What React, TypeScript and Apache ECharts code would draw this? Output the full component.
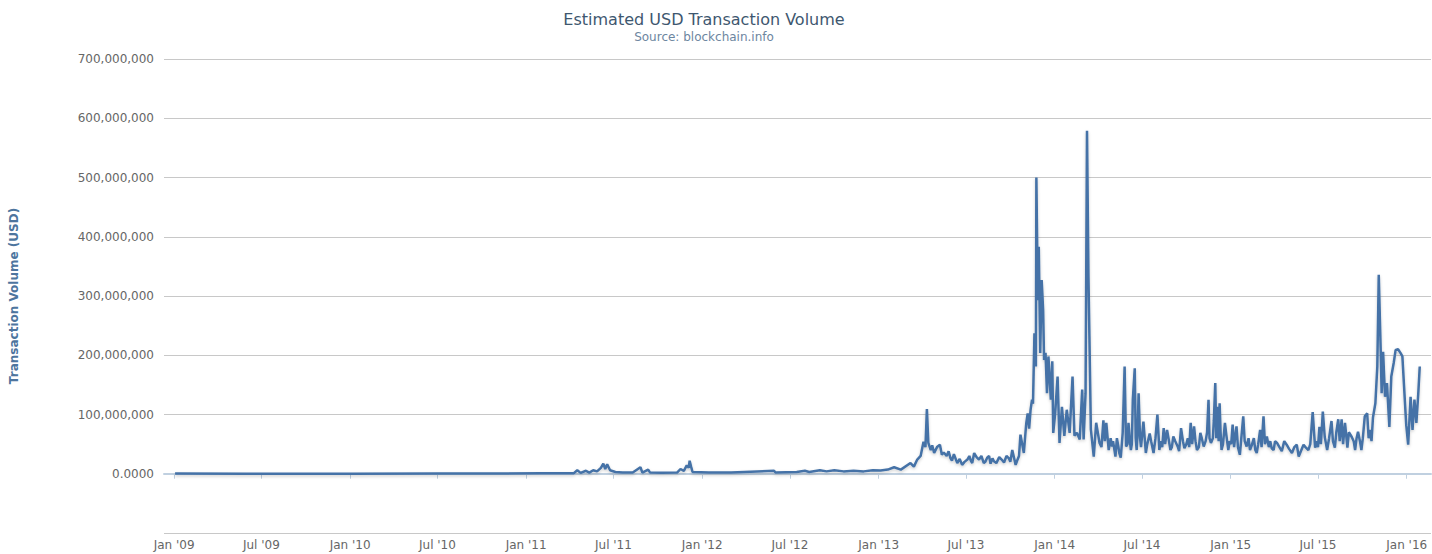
import React, { useEffect, useRef } from "react";
import * as echarts from "echarts";

// Estimated USD transaction volume, values in millions of USD
const volume2009to2012: [string, number][] = [
  ["2009-01-03", 0.3], ["2009-06-01", 0.2], ["2010-01-01", 0.2], ["2010-07-01", 0.3],
  ["2010-11-01", 0.5], ["2011-02-01", 0.8], ["2011-04-10", 1.0], ["2011-04-17", 6],
  ["2011-04-24", 1.5], ["2011-05-05", 5], ["2011-05-12", 2], ["2011-05-20", 6],
  ["2011-05-28", 4], ["2011-06-05", 10], ["2011-06-10", 17], ["2011-06-14", 8],
  ["2011-06-18", 16], ["2011-06-24", 6], ["2011-07-05", 3], ["2011-07-20", 2],
  ["2011-08-10", 2], ["2011-08-26", 11], ["2011-08-30", 2], ["2011-09-11", 7],
  ["2011-09-15", 2], ["2011-10-10", 1.5], ["2011-11-10", 2], ["2011-11-17", 8],
  ["2011-11-24", 5], ["2011-11-30", 14], ["2011-12-04", 10], ["2011-12-06", 22],
  ["2011-12-09", 12], ["2011-12-12", 3], ["2012-01-15", 2], ["2012-03-01", 2],
  ["2012-05-29", 5], ["2012-06-01", 2], ["2012-07-15", 3], ["2012-08-01", 5],
  ["2012-08-10", 3], ["2012-09-01", 6], ["2012-09-15", 4], ["2012-10-01", 6],
  ["2012-10-20", 4], ["2012-11-10", 5], ["2012-12-01", 4], ["2012-12-20", 6],
];

const volume2013: [string, number][] = [
  ["2013-01-05", 5.6], ["2013-01-20", 7], ["2013-02-02", 11], ["2013-02-16", 7],
  ["2013-03-08", 18], ["2013-03-15", 12], ["2013-03-22", 24], ["2013-03-29", 30],
  ["2013-04-04", 54], ["2013-04-08", 45], ["2013-04-11", 109], ["2013-04-14", 52],
  ["2013-04-19", 40], ["2013-04-26", 35], ["2013-05-02", 45], ["2013-05-08", 49],
  ["2013-05-16", 36], ["2013-05-22", 30], ["2013-05-30", 26], ["2013-06-06", 33],
  ["2013-06-13", 18], ["2013-06-23", 15], ["2013-07-04", 24], ["2013-07-11", 22],
  ["2013-07-18", 35], ["2013-07-28", 24], ["2013-08-07", 18], ["2013-08-14", 27],
  ["2013-08-21", 17], ["2013-08-28", 21], ["2013-09-08", 28], ["2013-09-18", 19],
  ["2013-09-28", 26], ["2013-10-05", 40], ["2013-10-12", 15], ["2013-10-19", 30],
  ["2013-10-22", 66], ["2013-10-29", 35], ["2013-11-03", 85], ["2013-11-06", 102],
  ["2013-11-09", 76], ["2013-11-12", 108], ["2013-11-15", 125], ["2013-11-17", 118],
  ["2013-11-20", 237], ["2013-11-23", 181], ["2013-11-24", 500], ["2013-11-27", 293],
  ["2013-11-29", 383], ["2013-12-02", 204], ["2013-12-05", 327], ["2013-12-08", 277],
  ["2013-12-10", 192], ["2013-12-13", 204], ["2013-12-16", 136], ["2013-12-19", 198],
  ["2013-12-24", 125], ["2013-12-27", 190], ["2013-12-29", 69],
];

const volume2013Extra: [string, number][] = [
  ["2013-04-22", 48], ["2013-05-12", 32], ["2013-05-26", 38], ["2013-06-02", 22],
  ["2013-06-18", 25], ["2013-06-28", 20], ["2013-07-08", 30], ["2013-07-14", 18],
  ["2013-07-23", 28], ["2013-08-02", 30], ["2013-08-10", 20], ["2013-08-18", 30],
  ["2013-08-25", 26], ["2013-09-02", 18], ["2013-09-13", 24], ["2013-09-23", 30],
  ["2013-10-01", 20], ["2013-10-15", 22],
];

const volume2014: [string, number][] = [
  ["2014-01-02", 102], ["2014-01-07", 164], ["2014-01-11", 52], ["2014-01-16", 113],
  ["2014-01-21", 64], ["2014-01-26", 108], ["2014-02-01", 69], ["2014-02-07", 164],
  ["2014-02-11", 64], ["2014-02-16", 69], ["2014-02-22", 58], ["2014-02-27", 142],
  ["2014-03-02", 58], ["2014-03-06", 136], ["2014-03-09", 579], ["2014-03-12", 333],
  ["2014-03-14", 232], ["2014-03-17", 75], ["2014-03-23", 29], ["2014-03-28", 86],
  ["2014-04-04", 52], ["2014-04-12", 90], ["2014-04-18", 86], ["2014-04-23", 40],
  ["2014-04-30", 46], ["2014-05-07", 29], ["2014-05-13", 46], ["2014-05-18", 27],
  ["2014-05-22", 69], ["2014-05-26", 181], ["2014-05-29", 46], ["2014-06-03", 86],
  ["2014-06-08", 40], ["2014-06-12", 125], ["2014-06-16", 178], ["2014-06-20", 40],
  ["2014-06-24", 136], ["2014-06-29", 45], ["2014-07-04", 88], ["2014-07-09", 35],
  ["2014-07-12", 50], ["2014-07-17", 68], ["2014-07-25", 35], ["2014-08-02", 100],
  ["2014-08-06", 40], ["2014-08-15", 77], ["2014-08-22", 74], ["2014-08-29", 40],
  ["2014-09-04", 63], ["2014-09-13", 46], ["2014-09-20", 77], ["2014-09-27", 43],
  ["2014-10-10", 86], ["2014-10-17", 80], ["2014-10-23", 40], ["2014-10-30", 69],
  ["2014-11-06", 46], ["2014-11-16", 125], ["2014-11-21", 52], ["2014-11-30", 153],
  ["2014-12-04", 113], ["2014-12-09", 119], ["2014-12-13", 40], ["2014-12-20", 86],
  ["2014-12-27", 40],
];

const volume2014Extra: [string, number][] = [
  ["2014-04-08", 45], ["2014-04-15", 55], ["2014-04-27", 60], ["2014-05-02", 55],
  ["2014-05-10", 60], ["2014-05-15", 35], ["2014-06-01", 50], ["2014-06-06", 55],
  ["2014-06-10", 50], ["2014-06-18", 60], ["2014-06-22", 70], ["2014-06-27", 60],
  ["2014-07-20", 55], ["2014-07-29", 60], ["2014-08-09", 55], ["2014-08-12", 45],
  ["2014-08-18", 50], ["2014-08-25", 60], ["2014-09-01", 45], ["2014-09-08", 55],
  ["2014-09-16", 38], ["2014-09-24", 55], ["2014-10-01", 50], ["2014-10-04", 60],
  ["2014-10-07", 45], ["2014-10-13", 50], ["2014-10-20", 55], ["2014-10-27", 45],
  ["2014-11-02", 60], ["2014-11-10", 55], ["2014-11-13", 70], ["2014-11-18", 60],
  ["2014-11-25", 60], ["2014-11-27", 90], ["2014-12-02", 60], ["2014-12-07", 55],
  ["2014-12-11", 70], ["2014-12-16", 50], ["2014-12-23", 65], ["2014-12-30", 55],
];

const volume2015: [string, number][] = [
  ["2015-01-05", 83], ["2015-01-13", 80], ["2015-01-20", 32], ["2015-01-27", 97],
  ["2015-02-03", 46], ["2015-02-14", 49], ["2015-02-24", 35], ["2015-03-03", 74],
  ["2015-03-10", 97], ["2015-03-17", 63], ["2015-03-27", 43], ["2015-04-07", 52],
  ["2015-04-17", 38], ["2015-04-27", 49], ["2015-05-08", 35], ["2015-05-18", 49],
  ["2015-05-22", 29], ["2015-06-01", 49], ["2015-06-11", 40], ["2015-06-20", 104],
  ["2015-06-25", 44], ["2015-07-04", 79], ["2015-07-11", 105], ["2015-07-15", 62],
  ["2015-07-20", 40], ["2015-07-29", 89], ["2015-08-05", 44], ["2015-08-12", 92],
  ["2015-08-19", 92], ["2015-08-26", 86], ["2015-08-31", 44], ["2015-09-09", 62],
  ["2015-09-16", 40], ["2015-09-22", 71], ["2015-09-29", 40], ["2015-10-06", 97],
  ["2015-10-11", 102], ["2015-10-17", 74], ["2015-10-23", 95], ["2015-10-28", 119],
  ["2015-11-01", 181], ["2015-11-04", 336], ["2015-11-08", 209], ["2015-11-10", 136],
  ["2015-11-13", 206], ["2015-11-17", 130], ["2015-11-21", 153], ["2015-11-26", 79],
  ["2015-11-30", 164], ["2015-12-05", 187], ["2015-12-09", 209], ["2015-12-14", 210],
  ["2015-12-19", 204], ["2015-12-23", 198], ["2015-12-28", 125], ["2015-12-31", 82],
];

const volume2015Extra: [string, number][] = [
  ["2015-01-02", 50], ["2015-01-08", 45], ["2015-01-10", 60], ["2015-01-16", 45],
  ["2015-01-23", 60], ["2015-01-30", 55], ["2015-02-07", 60], ["2015-02-10", 40],
  ["2015-02-18", 60], ["2015-02-21", 40], ["2015-02-27", 50], ["2015-03-06", 45],
  ["2015-03-13", 50], ["2015-03-21", 45], ["2015-03-24", 55], ["2015-03-31", 40],
  ["2015-04-03", 55], ["2015-04-12", 45], ["2015-04-22", 55], ["2015-05-02", 42],
  ["2015-05-13", 45], ["2015-06-05", 45], ["2015-06-15", 50], ["2015-06-28", 55],
  ["2015-07-01", 45], ["2015-07-07", 50], ["2015-07-24", 60], ["2015-08-01", 55],
  ["2015-08-08", 70], ["2015-08-15", 55], ["2015-08-22", 50], ["2015-09-03", 70],
  ["2015-09-13", 55], ["2015-09-19", 60], ["2015-09-26", 55], ["2015-10-02", 60],
  ["2015-10-14", 60], ["2015-10-20", 55],
];

const volume2016: [string, number][] = [
  ["2016-01-04", 49], ["2016-01-09", 130], ["2016-01-13", 74], ["2016-01-17", 125],
  ["2016-01-21", 86], ["2016-01-25", 136], ["2016-01-28", 181],
];

// x-axis tick labels (every six months)
const tickDates: string[] = [
  "2009-01-01", "2009-07-01", "2010-01-01", "2010-07-01", "2011-01-01", "2011-07-01",
  "2012-01-01", "2012-07-01", "2013-01-01", "2013-07-01", "2014-01-01", "2014-07-01",
  "2015-01-01", "2015-07-01", "2016-01-01",
];

const MONTHS = ["Jan", "Feb", "Mar", "Apr", "May", "Jun", "Jul", "Aug", "Sep", "Oct", "Nov", "Dec"];

const toUTC = (s: string) => {
  const [y, m, d] = s.split("-").map(Number);
  return Date.UTC(y, m - 1, d);
};

const FONT = "DejaVu Sans";

export default function App() {
  const ref = useRef<HTMLDivElement>(null);

  useEffect(() => {
    if (!ref.current) return;
    const chart = echarts.init(ref.current, undefined, { renderer: "svg" });
    const all = [
      ...volume2009to2012, ...volume2013, ...volume2013Extra, ...volume2014,
      ...volume2014Extra, ...volume2015, ...volume2015Extra, ...volume2016,
    ];
    const seriesData = all
      .map(([d, v]) => [toUTC(d), v * 1e6])
      .sort((a, b) => a[0] - b[0]);
    const ticks = tickDates.map(toUTC);

    chart.setOption({
      animation: false,
      backgroundColor: "#ffffff",
      graphic: [
        {
          type: "text",
          x: 704,
          y: 19,
          style: {
            text: "Estimated USD Transaction Volume",
            fill: "#3E576F",
            font: `16px "${FONT}"`,
            align: "center",
            verticalAlign: "middle",
          },
        },
        {
          type: "text",
          x: 704,
          y: 37,
          style: {
            text: "Source: blockchain.info",
            fill: "#6D869F",
            font: `12px "${FONT}"`,
            align: "center",
            verticalAlign: "middle",
          },
        },
      ],
      grid: { left: 162, right: 1, top: 59, bottom: 21, containLabel: false },
      xAxis: {
        type: "value",
        min: Date.UTC(2008, 11, 11),
        max: Date.UTC(2016, 1, 20, 8),
        axisLine: { show: true, lineStyle: { color: "#C0D0E0", width: 2 } },
        axisTick: {
          show: true,
          customValues: ticks,
          length: 5,
          lineStyle: { color: "#C0D0E0", width: 1 },
        },
        axisLabel: {
          customValues: ticks,
          color: "#666666",
          fontFamily: FONT,
          fontSize: 12,
          margin: 6,
          formatter: (v: number) => {
            const dt = new Date(v);
            const yy = String(dt.getUTCFullYear() % 100).padStart(2, "0");
            return `${MONTHS[dt.getUTCMonth()]} '${yy}`;
          },
        },
        splitLine: { show: false },
      },
      yAxis: {
        type: "value",
        min: -100000000,
        max: 700000000,
        interval: 100000000,
        name: "Transaction Volume (USD)",
        nameLocation: "middle",
        nameGap: 144,
        nameTextStyle: { color: "#4d759e", fontFamily: FONT, fontSize: 12, fontWeight: "bold" },
        axisLine: { show: false },
        axisTick: { show: false },
        axisLabel: {
          color: "#666666",
          fontFamily: FONT,
          fontSize: 12,
          margin: 10,
          formatter: (v: number) => {
            if (v < 0) return "";
            if (v === 0) return "0.0000";
            return v.toLocaleString("en-US");
          },
        },
        splitLine: { show: true, lineStyle: { color: "#C8C8C8", width: 1 } },
      },
      series: [
        {
          type: "line",
          data: seriesData,
          showSymbol: false,
          symbol: "none",
          lineStyle: {
            color: "#4572A7",
            width: 2.5,
            shadowColor: "rgba(0,0,0,0.2)",
            shadowBlur: 3,
            shadowOffsetY: 1.5,
          },
          itemStyle: { color: "#4572A7" },
        },
      ],
    });

    return () => chart.dispose();
  }, []);

  return (
    <div
      ref={ref}
      style={{ position: "fixed", left: 0, top: 0, width: 1432, height: 554 }}
    />
  );
}
